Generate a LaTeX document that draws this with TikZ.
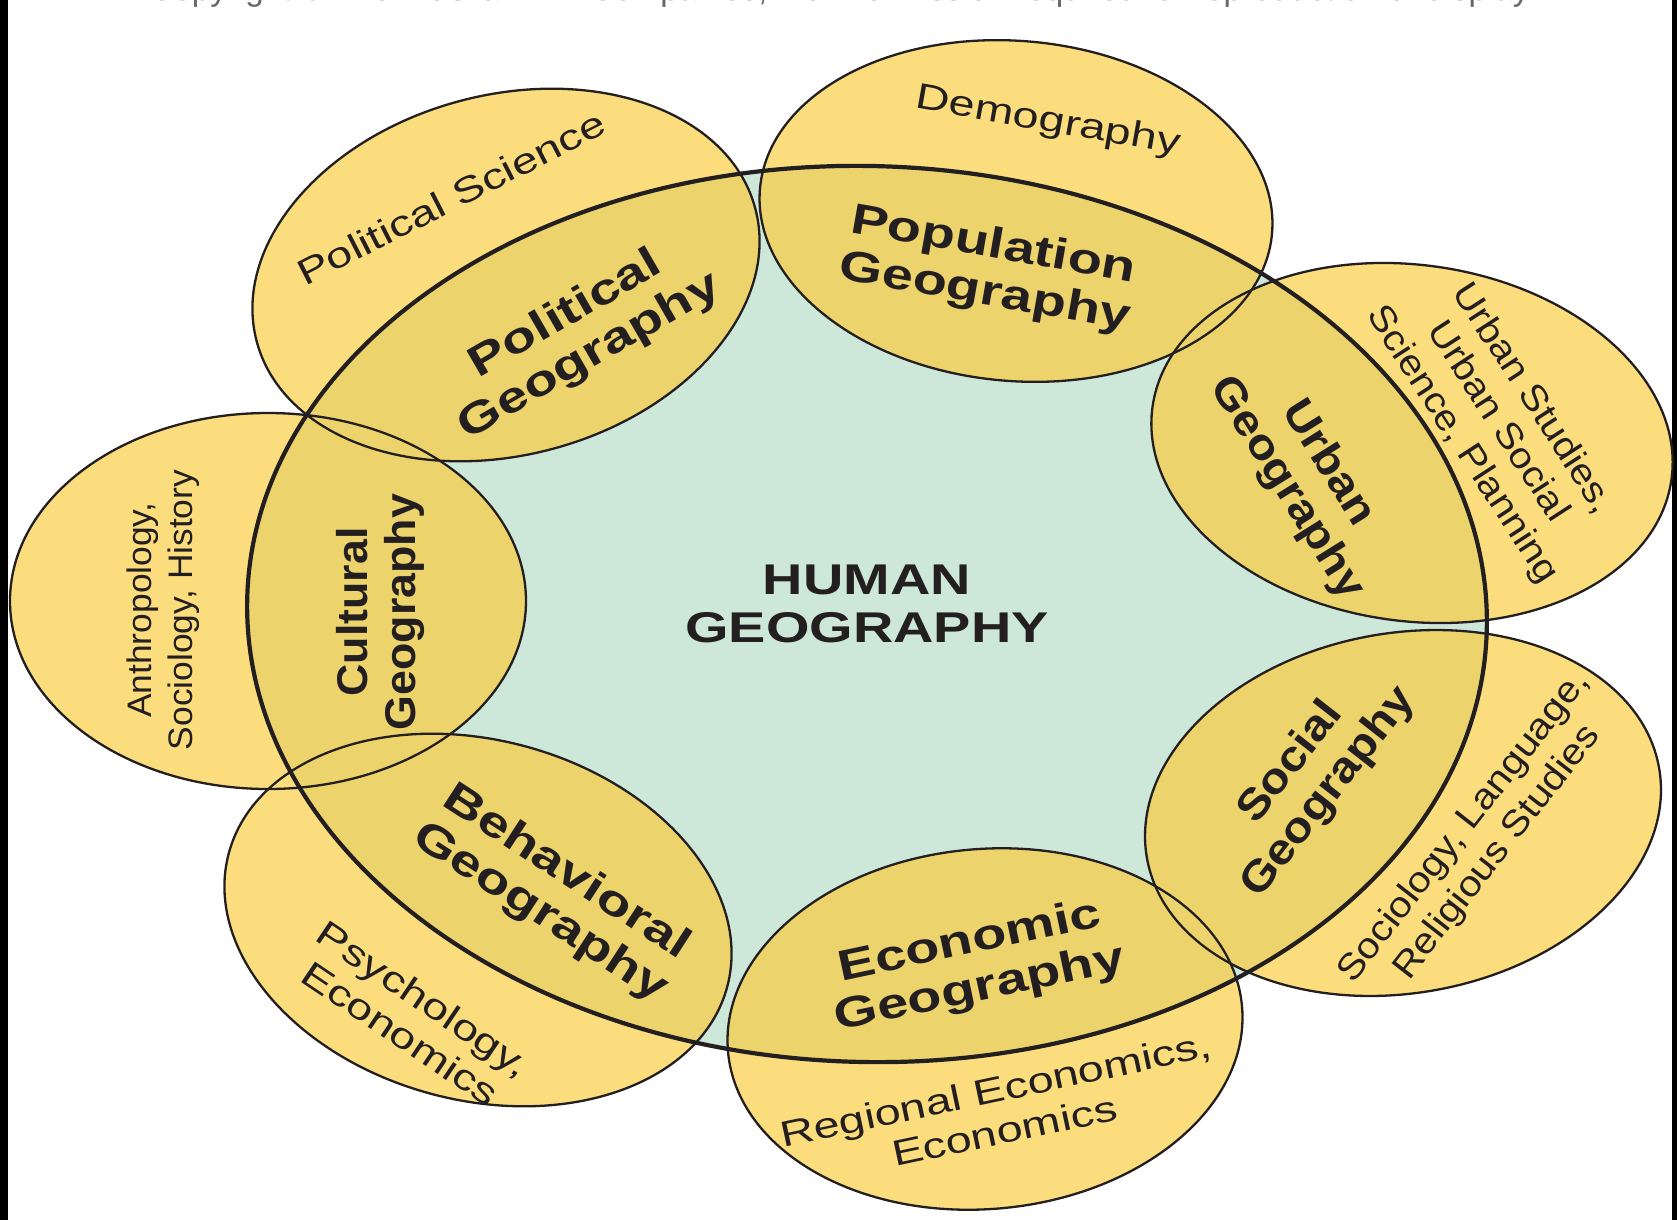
\documentclass[tikz,border=0pt]{standalone}
\usepackage{fontspec}
\setmainfont{Liberation Sans}
\newfontfamily\fA[FakeStretch=1.30]{Liberation Sans}
\newfontfamily\fB[FakeStretch=1.12]{Liberation Sans}
\newfontfamily\fC[FakeStretch=1.04]{Liberation Sans}
\definecolor{yel}{RGB}{252,221,126}
\definecolor{dyel}{RGB}{236,211,108}
\definecolor{mint}{RGB}{205,232,216}
\definecolor{ink}{RGB}{35,31,32}
\begin{document}
\begin{tikzpicture}[x=1pt,y=-1pt,
  thinline/.style={draw=ink,line width=2.3pt},
  thickline/.style={draw=ink,line width=4.2pt},
  lab/.style={text=ink,align=center,inner sep=0pt},
  bA/.style={lab,font=\fA\bfseries\fontsize{43}{48}\selectfont},
  bB/.style={lab,font=\fB\bfseries\fontsize{43}{48}\selectfont},
  bC/.style={lab,font=\fC\bfseries\fontsize{43}{48}\selectfont},
  rA/.style={lab,font=\fA\fontsize{36}{42}\selectfont},
  rB/.style={lab,font=\fB\fontsize{36}{42}\selectfont},
  rC/.style={lab,font=\fC\fontsize{34}{41}\selectfont}]
\useasboundingbox (0,0) rectangle (1677,1220);
\fill[white] (0,0) rectangle (1677,1220);
\fill[black] (0,0) rectangle (8,1220);
\fill[black] (1672,0) rectangle (1677,1220);
\begin{scope}
\clip (0,0) rectangle (1677,1220);
\node[anchor=base,text=black!60,inner sep=0pt] (copy) at (843,0.5)
  {\resizebox{1387pt}{!}{\fontsize{30}{30}\selectfont Copyright \textcopyright\ The McGraw-Hill Companies, Inc. Permission required for reproduction or display.}};
\end{scope}
\def\mainEll{[rotate around={-1.5:(867,614)}] (867,614) ellipse [x radius=620, y radius=448]}
% x / y / rotation / x radius / y radius
\def\circs{506/275/15/258/180, 1016/211/-5/257/170, 1412/443/-8/262/178, 1403/813/10/260/180, 985/1029/5/258/180, 478/920/-15/258/180, 268/601/0/258/188}
% fills
\fill[mint] \mainEll;
\foreach \cx/\cy/\r/\ra/\rb in \circs {
  \fill[yel, rotate around={\r:(\cx,\cy)}] (\cx,\cy) ellipse [x radius=\ra, y radius=\rb];
}
\begin{scope}
\clip \mainEll;
\foreach \cx/\cy/\r/\ra/\rb in \circs {
  \fill[dyel, rotate around={\r:(\cx,\cy)}] (\cx,\cy) ellipse [x radius=\ra, y radius=\rb];
}
\end{scope}
% outlines
\foreach \cx/\cy/\r/\ra/\rb in \circs {
  \draw[thinline, rotate around={\r:(\cx,\cy)}] (\cx,\cy) ellipse [x radius=\ra, y radius=\rb];
}
\draw[thickline] \mainEll;
% labels
\node[rA, rotate=27] (ps) at (451,198) {Political Science};
\node[bA, rotate=30] (pg) at (578,336) {Political\\Geography};
\node[rA, rotate=-10] (dm) at (1048,122) {Demography};
\node[bA, rotate=-10] (pop) at (989,270) {Population\\Geography};
\node[rB, rotate=-57] (us) at (1497,422) {Urban Studies,\\Urban Social\\Science, Planning};
\node[bB, rotate=-58] (ug) at (1307,476) {Urban\\Geography};
\node[bB, rotate=52] (sg) at (1310,778) {Social\\Geography};
\node[rB, rotate=52] (sl) at (1481,840) {Sociology, Language,\\Religious Studies};
\node[bA, rotate=12] (eg) at (975,966) {Economic\\Geography};
\node[rA, rotate=12] (re) at (1000,1110) {Regional Economics,\\Economics};
\node[bA, rotate=-33] (bg) at (553,893) {Behavioral\\Geography};
\node[rA, rotate=-34] (pe) at (412,1016) {Psychology,\\Economics};
\node[rC, rotate=90] (an) at (163,610) {Anthropology,\\Sociology, History};
\node[bC, rotate=90] (cg) at (380,612) {Cultural\\Geography};
\node[bA] (hg) at (867,604) {HUMAN\\GEOGRAPHY};
\end{tikzpicture}
\end{document}
